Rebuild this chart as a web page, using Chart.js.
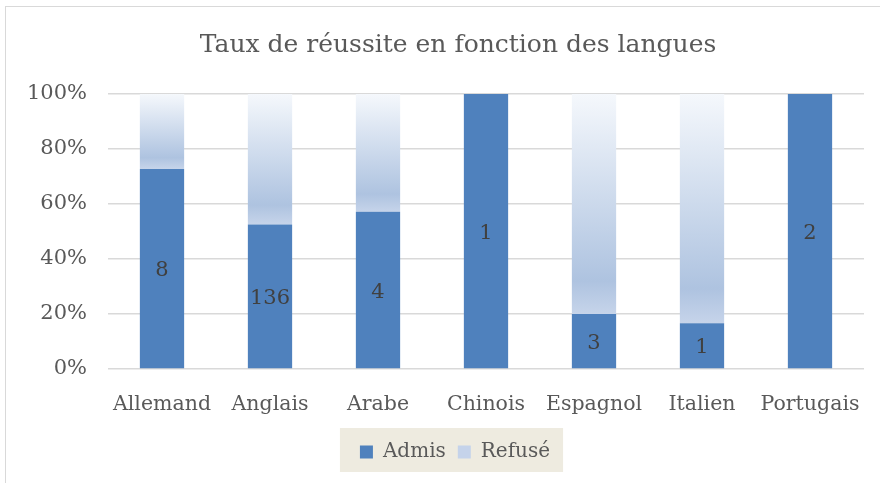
<!DOCTYPE html>
<html>
<head>
<meta charset="utf-8">
<script src="https://cdn.jsdelivr.net/npm/chart.js@4.4.1/dist/chart.umd.min.js"></script>
<style>
  html, body { margin: 0; padding: 0; background: #fff; }
  #wrap { position: relative; width: 880px; height: 483px; overflow: hidden; }
  #frame { position: absolute; left: 5px; top: 6px; width: 900px; height: 520px; border: 1px solid #d9d9d9; box-sizing: border-box; }
  #chart { position: absolute; left: 0; top: 0; }
</style>
</head>
<body>
<div id="wrap">
  <div id="frame"></div>
  <canvas id="chart" width="880" height="483"></canvas>
</div>
<script>
'use strict'

const languages = ['Allemand', 'Anglais', 'Arabe', 'Chinois', 'Espagnol', 'Italien', 'Portugais']
const admis = [8, 136, 4, 1, 3, 1, 2]
const refuses = [3, 123, 3, 0, 12, 5, 0]
const yTicks = [0, 20, 40, 60, 80, 100]

// share of each outcome per language, in percent
const admisPct = admis.map((a, i) => a / (a + refuses[i]) * 100)
const refusesPct = refuses.map((r, i) => r / (admis[i] + refuses[i]) * 100)

const serif = '"DejaVu Serif", serif'

function refusFill (context) {
  const chart = context.chart
  const y = chart.scales.y
  if (!y || context.dataIndex === undefined) return '#c5d3ea'
  const top = y.getPixelForValue(100)
  const bottom = y.getPixelForValue(admisPct[context.dataIndex])
  if (!isFinite(top) || !isFinite(bottom) || bottom - top < 1) return '#c5d3ea'
  const g = chart.ctx.createLinearGradient(0, top, 0, bottom)
  g.addColorStop(0, '#f5f8fc')
  g.addColorStop(0.85, '#aec3e0')
  g.addColorStop(1, '#c6d4ea')
  return g
}

const admisLabels = {
  id: 'admisLabels',
  afterDatasetsDraw (chart) {
    const ctx = chart.ctx
    const meta = chart.getDatasetMeta(0)
    ctx.save()
    ctx.font = '21px ' + serif
    ctx.fillStyle = '#404040'
    ctx.textAlign = 'center'
    ctx.textBaseline = 'middle'
    meta.data.forEach((bar, i) => {
      ctx.fillText(String(admis[i]), bar.x, (bar.y + bar.base) / 2 + 2)
    })
    ctx.restore()
  }
}

// title and legend sit a bit right of the canvas centre, legend on a beige box
const legendBackground = {
  id: 'legendBackground',
  afterLayout (chart) {
    chart.legend.left += 23
    chart.legend.right += 23
    chart.titleBlock.left += 26
    chart.titleBlock.right += 26
  },
  beforeDraw (chart) {
    const boxes = chart.legend && chart.legend.legendHitBoxes
    if (!boxes || !boxes.length) return
    const left = boxes[0].left - 20
    const last = boxes[boxes.length - 1]
    const right = last.left + last.width + 13
    const ctx = chart.ctx
    ctx.save()
    ctx.fillStyle = '#eeebe0'
    ctx.fillRect(left, 428, right - left, 44)
    ctx.restore()
  }
}

const legendColors = ['#4f81bd', '#c5d3ea']

new Chart(document.getElementById('chart'), {
  type: 'bar',
  data: {
    labels: languages,
    datasets: [
      { label: 'Admis', data: admisPct, backgroundColor: '#4f81bd', borderWidth: 0 },
      { label: 'Refusé', data: refusesPct, backgroundColor: refusFill, borderWidth: 0 }
    ]
  },
  options: {
    responsive: false,
    animation: false,
    layout: { padding: { left: 0, right: 16, top: 0, bottom: 11 } },
    datasets: { bar: { barPercentage: 0.41, categoryPercentage: 1 } },
    scales: {
      x: {
        stacked: true,
        grid: { display: false },
        border: { display: false },
        ticks: { color: '#595959', font: { family: serif, size: 20.5 }, padding: 15, maxRotation: 0 },
        afterFit (scale) { scale.height = 61 }
      },
      y: {
        stacked: true,
        min: 0,
        max: 100,
        afterBuildTicks (scale) { scale.ticks = yTicks.map(v => ({ value: v })) },
        grid: { color: '#d9d9d9', lineWidth: 1.5, drawTicks: false },
        border: { display: false },
        ticks: { color: '#595959', font: { family: serif, size: 21 }, padding: 21, callback: v => v + '%' },
        afterFit (scale) { scale.width = 108 }
      }
    },
    plugins: {
      title: {
        display: true,
        text: 'Taux de réussite en fonction des langues',
        color: '#595959',
        font: { family: serif, size: 25, weight: 'normal' },
        padding: { top: 30, bottom: 34 }
      },
      legend: {
        position: 'bottom',
        labels: {
          color: '#595959',
          font: { family: serif, size: 20 },
          boxWidth: 13,
          boxHeight: 13,
          padding: 12,
          generateLabels (chart) {
            return Chart.defaults.plugins.legend.labels.generateLabels(chart).map(l => {
              l.fillStyle = legendColors[l.datasetIndex]
              l.strokeStyle = legendColors[l.datasetIndex]
              l.lineWidth = 0
              return l
            })
          }
        }
      },
      tooltip: { enabled: false }
    }
  },
  plugins: [legendBackground, admisLabels]
})
</script>
</body>
</html>
